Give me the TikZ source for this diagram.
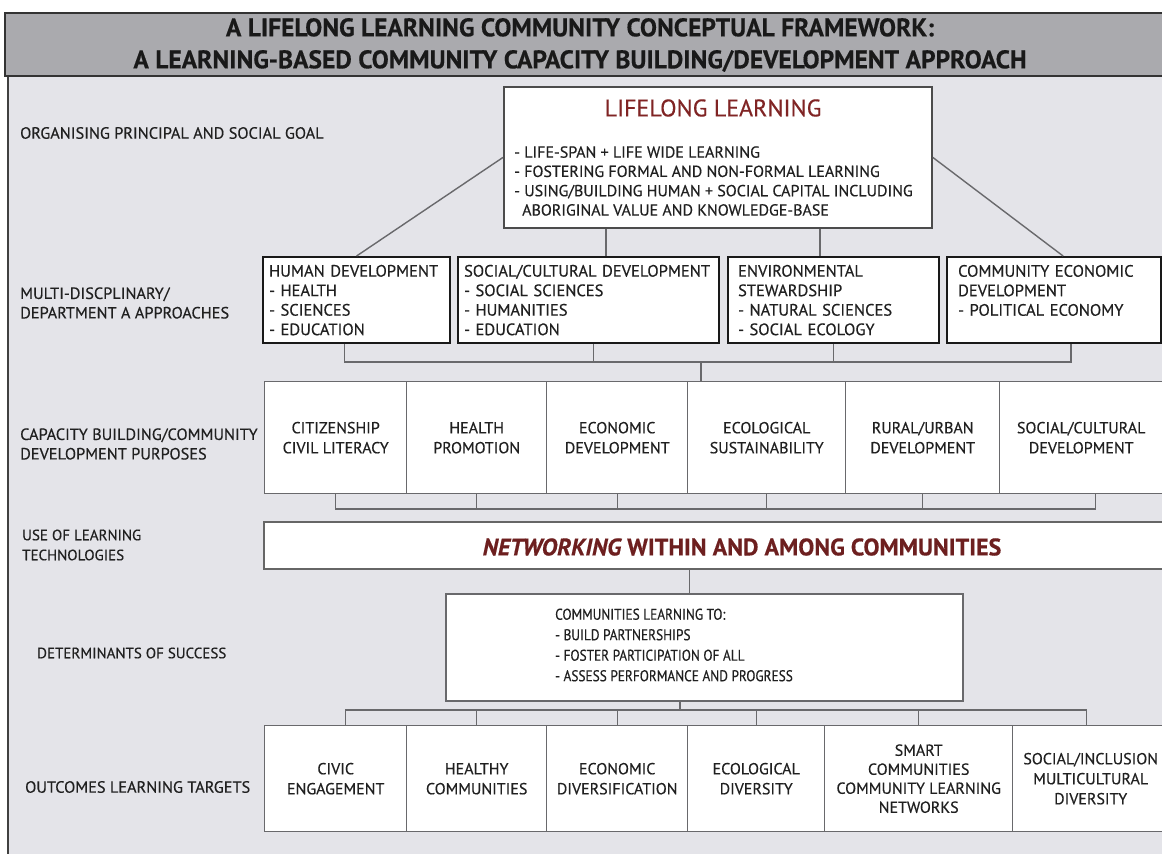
\documentclass[tikz,border=0pt]{standalone}
\usepackage{fontspec}
\setmainfont{PT Sans}[FakeBold=0.4]
\newfontfamily\condfont[FakeStretch=0.86,FakeBold=0.4]{PT Sans}
\usepackage{tikz}
\usetikzlibrary{positioning,calc}
\usepackage{xcolor}
\definecolor{fond}{RGB}{228,228,233}
\definecolor{bande}{RGB}{170,170,174}
\definecolor{trait}{RGB}{105,105,108}
\definecolor{encre}{RGB}{32,32,32}
\definecolor{rougell}{RGB}{128,36,36}
\tikzset{
boxnode/.style = {inner sep=0pt, fill=white, text=encre, anchor=north west},
box_ll/.style = {boxnode, rectangle, draw=black!70, line width=1.8pt, minimum width=428, minimum height=141},% principe
box_app/.style = {boxnode, rectangle, draw=black!90, line width=2.2pt, minimum height=86, align=left, font=\fontsize{16.5}{19.5}\selectfont},% approches
box_cell/.style = {boxnode, rectangle, draw=trait, line width=1.4pt, align=center, font=\fontsize{16}{20}\selectfont},% cases
box_net/.style = {boxnode, rectangle, draw=black!60, line width=2pt, minimum width=905, minimum height=47},% reseau
box_det/.style = {boxnode, rectangle, draw=trait, line width=1.8pt, minimum width=517, minimum height=107},% determinants
lab/.style = {anchor=west, inner sep=0pt, align=left, text=encre, font=\fontsize{16.3}{19.5}\selectfont},% etiquettes a gauche
lien/.style = {draw=trait, line width=1.4pt}
}

\begin{document}
\begin{tikzpicture}[x=1pt, y=-1pt]
  \useasboundingbox (0,0) rectangle (1162,854);
  % fond et bandeau
  \fill[fond] (8,13) rectangle (1175,860);
  \draw[black!75, line width=2pt] (8,76) -- (8,860);
  \filldraw[fill=bande, draw=black!80, line width=2pt] (5,13) rectangle (1175,76);
  \node[inner sep=0pt, align=center, text=black!90, font=\bfseries\fontsize{25.5}{32}\selectfont] (titre) at (580,45)
    {A LIFELONG LEARNING COMMUNITY CONCEPTUAL FRAMEWORK:\\A LEARNING-BASED COMMUNITY CAPACITY BUILDING/DEVELOPMENT APPROACH};

  % etiquettes
  \node[lab] (l1) at (20,133) {ORGANISING PRINCIPAL AND SOCIAL GOAL};
  \node[lab] (l2) at (20,303) {MULTI-DISCPLINARY/\\DEPARTMENT A APPROACHES};
  \node[lab] (l3) at (20,444) {CAPACITY BUILDING/COMMUNITY\\DEVELOPMENT PURPOSES};
  \node[lab, font=\fontsize{15}{20}\selectfont] (l4) at (22,545) {USE OF LEARNING\\TECHNOLOGIES};
  \node[lab, font=\fontsize{15}{20}\selectfont] (l5) at (37,653) {DETERMINANTS OF SUCCESS};
  \node[lab] (l6) at (25,787) {OUTCOMES LEARNING TARGETS};

  % principe
  \node[box_ll] (ll) at (503,86) {};
  \node[inner sep=0pt, text=rougell, font=\fontsize{24}{28}\selectfont] (lltitre) at (713,108) {LIFELONG LEARNING};
  \node[inner sep=0pt, anchor=west, align=left, text=encre, font=\fontsize{16}{19.3}\selectfont] (llpuces) at (514,181)
    {- LIFE-SPAN + LIFE WIDE LEARNING\\- FOSTERING FORMAL AND NON-FORMAL LEARNING\\- USING/BUILDING HUMAN + SOCIAL CAPITAL INCLUDING\\\hspace*{8pt}ABORIGINAL VALUE AND KNOWLEDGE-BASE};

  % approches
  \node[box_app, minimum width=187, text width=175] (hd) at (262,256) {HUMAN DEVELOPMENT\\- HEALTH\\- SCIENCES\\- EDUCATION};
  \node[box_app, minimum width=261, text width=249] (sc) at (457,256) {SOCIAL/CULTURAL DEVELOPMENT\\- SOCIAL SCIENCES\\- HUMANITIES\\- EDUCATION};
  \node[box_app, minimum width=211, text width=191] (env) at (727,256) {ENVIRONMENTAL\\STEWARDSHIP\\- NATURAL SCIENCES\\- SOCIAL ECOLOGY};
  \node[box_app, minimum width=214, text width=192] (ce) at (946,256) {COMMUNITY ECONOMIC\\DEVELOPMENT\\- POLITICAL ECONOMY\\\mbox{}};

  \draw[lien] (ll.west) -- (hd.north);
  \draw[lien] (ll.east) -- ([xshift=9pt]ce.north);
  \draw[lien] ([xshift=-112pt]ll.south) -- ([xshift=-112pt]ll.south |- sc.north);
  \draw[lien] ([xshift=102pt]ll.south) -- ([xshift=102pt]ll.south |- env.north);

  % buts
  \node[box_cell, minimum width=142, minimum height=112] (c1) at (264,381) {CITIZENSHIP\\CIVIL LITERACY};
  \node[box_cell, minimum width=140, minimum height=112] (c2) at (406,381) {HEALTH\\PROMOTION};
  \node[box_cell, minimum width=141, minimum height=112] (c3) at (546,381) {ECONOMIC\\DEVELOPMENT};
  \node[box_cell, minimum width=158, minimum height=112] (c4) at (687,381) {ECOLOGICAL\\SUSTAINABILITY};
  \node[box_cell, minimum width=154, minimum height=112] (c5) at (845,381) {RURAL/URBAN\\DEVELOPMENT};
  \node[box_cell, minimum width=169, minimum height=112] (c6) at (999,381) {\hspace*{-6pt}SOCIAL/CULTURAL\\\hspace*{-6pt}DEVELOPMENT};

  \coordinate (r2b) at (701,362);
  \draw[lien] ([xshift=-12pt]hd.south) |- (r2b) -| ([xshift=17pt]ce.south);
  \draw[lien] ([xshift=5pt]sc.south) -- ([xshift=5pt]sc.south |- r2b);
  \draw[lien] (env.south) -- (env.south |- r2b);
  \draw[lien] (r2b) -- (r2b |- c4.north);

  \coordinate (r3b) at (700,509);
  \draw[lien] (c1.south) |- (r3b) -| ([xshift=11pt]c6.south);
  \foreach \c in {c2,c3,c4,c5}
    \draw[lien] (\c.south) -- (\c.south |- r3b);

  % reseau
  \node[box_net] (net) at (263,521) {};
  \node[inner sep=0pt, text=rougell!85!black, font=\bfseries\fontsize{24}{28}\selectfont] (nettxt) at (742,547)
    {\itshape NETWORKING\upshape{} WITHIN AND AMONG COMMUNITIES};

  % determinants
  \node[box_det] (det) at (445,593) {};
  \node[inner sep=0pt, anchor=west, align=left, text=encre, font=\condfont\fontsize{15.5}{20.5}\selectfont] (dettxt) at (555,645)
    {COMMUNITIES LEARNING TO:\\- BUILD PARTNERSHIPS\\- FOSTER PARTICIPATION OF ALL\\- ASSESS PERFORMANCE AND PROGRESS};
  \draw[lien] ([xshift=-15pt]det.north) -- ([xshift=-15pt]det.north |- net.south);

  % resultats
  \node[box_cell, minimum width=142, minimum height=106] (o1) at (264,725) {CIVIC\\ENGAGEMENT};
  \node[box_cell, minimum width=140, minimum height=106] (o2) at (406,725) {HEALTHY\\COMMUNITIES};
  \node[box_cell, minimum width=141, minimum height=106] (o3) at (546,725) {ECONOMIC\\DIVERSIFICATION};
  \node[box_cell, minimum width=137, minimum height=106] (o4) at (687,725) {ECOLOGICAL\\DIVERSITY};
  \node[box_cell, minimum width=188, minimum height=106, font=\fontsize{16}{19}\selectfont] (o5) at (824,725) {SMART\\COMMUNITIES\\COMMUNITY LEARNING\\NETWORKS};
  \node[box_cell, minimum width=156, minimum height=106] (o6) at (1012,725) {SOCIAL/INCLUSION\\MULTICULTURAL\\DIVERSITY};

  \coordinate (r5b) at (680,710);
  \draw[lien] (det.south -| r5b) -- (r5b);
  \draw[lien] ([xshift=10pt]o1.south |- o1.north) |- (r5b) -| ([xshift=-4pt]o6.north);
  \foreach \c in {o2,o3,o4,o5}
    \draw[lien] (\c.north) -- (\c.north |- r5b);
\end{tikzpicture}
\end{document}
